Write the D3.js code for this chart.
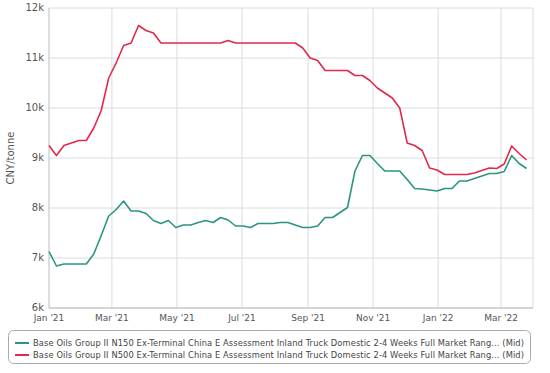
<!DOCTYPE html>
<html>
<head>
<meta charset="utf-8">
<script src="https://cdn.jsdelivr.net/npm/d3@7"></script>
<style>
  body { margin: 0; background: #fff; }
  text { font-family: "DejaVu Sans", sans-serif; }
</style>
</head>
<body>
<main></main>
<script>
// weekly readings, first one on 1 Jan 2021
const startDate = "2021-01-01";
const n150 = [7.13, 6.84, 6.88, 6.88, 6.88, 6.88, 7.08, 7.45, 7.84, 7.97,
  8.14, 7.94, 7.94, 7.89, 7.75, 7.69, 7.75, 7.61, 7.66, 7.66,
  7.71, 7.75, 7.71, 7.81, 7.76, 7.64, 7.64, 7.61, 7.69, 7.69,
  7.69, 7.71, 7.71, 7.66, 7.61, 7.61, 7.64, 7.81, 7.81, 7.91,
  8.01, 8.74, 9.05, 9.05, 8.89, 8.74, 8.74, 8.74, 8.57, 8.39,
  8.38, 8.36, 8.34, 8.39, 8.39, 8.54, 8.54, 8.59, 8.64, 8.69,
  8.69, 8.73, 9.05, 8.89, 8.79].map(v => v * 1000);
const n500 = [9.25, 9.05, 9.25, 9.3, 9.35, 9.35, 9.6, 9.95, 10.6, 10.9,
  11.25, 11.3, 11.65, 11.55, 11.5, 11.3, 11.3, 11.3, 11.3, 11.3,
  11.3, 11.3, 11.3, 11.3, 11.35, 11.3, 11.3, 11.3, 11.3, 11.3,
  11.3, 11.3, 11.3, 11.3, 11.2, 11.0, 10.95, 10.75, 10.75, 10.75,
  10.75, 10.65, 10.65, 10.55, 10.4, 10.3, 10.2, 10.0, 9.3, 9.25,
  9.15, 8.8, 8.76, 8.67, 8.67, 8.67, 8.67, 8.7, 8.75, 8.8,
  8.79, 8.88, 9.24, 9.09, 8.96].map(v => v * 1000);
const seriesNames = [
  "Base Oils Group II N150 Ex-Terminal China E Assessment Inland Truck Domestic 2-4 Weeks Full Market Rang... (Mid)",
  "Base Oils Group II N500 Ex-Terminal China E Assessment Inland Truck Domestic 2-4 Weeks Full Market Rang... (Mid)"
];
const colours = ["#2a9580", "#e2294c"];
const yTicks = [6000, 7000, 8000, 9000, 10000, 11000, 12000];
const yLabel = "CNY/tonne";

const parse = d3.timeParse("%Y-%m-%d");
const dates = n150.map((v, i) => d3.timeDay.offset(parse(startDate), i * 7));

const width = 550, height = 373;
const plotLeft = 49, plotRight = 533, plotTop = 8, plotBottom = 308;

const svg = d3.select("main").append("svg").attr("width", width).attr("height", height);

const x = d3.scaleTime().domain([parse("2021-01-01"), parse("2022-03-31")]).range([plotLeft, plotRight]);
const y = d3.scaleLinear().domain([6000, 12000]).range([plotBottom, plotTop]);

// horizontal grid
svg.append("g")
   .selectAll("line")
   .data(yTicks)
   .enter()
   .append("line")
   .attr("x1", plotLeft).attr("x2", plotRight)
   .attr("y1", d => y(d)).attr("y2", d => y(d))
   .attr("stroke", "#dcdcdc");

// vertical grid at month ticks
let xTicks = x.ticks(d3.timeMonth.every(2));
svg.append("g")
   .selectAll("line")
   .data(xTicks.slice(1))
   .enter()
   .append("line")
   .attr("x1", d => x(d)).attr("x2", d => x(d))
   .attr("y1", plotTop).attr("y2", plotBottom)
   .attr("stroke", "#dcdcdc");

svg.append("line")
   .attr("x1", plotRight).attr("x2", plotRight)
   .attr("y1", plotTop).attr("y2", plotBottom)
   .attr("stroke", "#dcdcdc");

// axes
svg.append("line")
   .attr("x1", plotLeft).attr("x2", plotLeft).attr("y1", plotTop).attr("y2", plotBottom)
   .attr("stroke", "#bdbdbd");
svg.append("line")
   .attr("x1", plotLeft).attr("x2", plotRight).attr("y1", plotBottom).attr("y2", plotBottom)
   .attr("stroke", "#bdbdbd");

svg.append("g")
   .selectAll("text")
   .data(yTicks)
   .enter()
   .append("text")
   .attr("x", plotLeft - 5)
   .attr("y", d => y(d) + 3)
   .attr("text-anchor", "end")
   .attr("font-size", "10px")
   .attr("fill", "#555")
   .text(d => (d / 1000) + "k");

svg.append("g")
   .selectAll("text")
   .data(xTicks)
   .enter()
   .append("text")
   .attr("x", d => x(d))
   .attr("y", plotBottom + 13)
   .attr("text-anchor", "middle")
   .attr("font-size", "9px")
   .attr("fill", "#555")
   .text(d => d3.timeFormat("%b '%y")(d));

svg.append("text")
   .attr("transform", `translate(14,${(plotTop + plotBottom) / 2}) rotate(-90)`)
   .attr("text-anchor", "middle")
   .attr("font-size", "10px")
   .attr("fill", "#555")
   .text(yLabel);

// lines
let line = d3.line().x((d, i) => x(dates[i])).y(d => y(d));
[n150, n500].forEach((s, k) => {
    svg.append("path")
       .attr("d", line(s))
       .attr("fill", "none")
       .attr("stroke", colours[k])
       .attr("stroke-width", 1.6)
       .attr("stroke-linejoin", "round");
});

// legend
let legend = svg.append("g");
legend.append("rect")
      .attr("x", 8.5).attr("y", 330.5)
      .attr("width", 522).attr("height", 33)
      .attr("rx", 5)
      .attr("fill", "#fff")
      .attr("stroke", "#aaa");

seriesNames.forEach((name, k) => {
    let ly = 343 + k * 12;
    legend.append("line")
          .attr("x1", 15).attr("x2", 29)
          .attr("y1", ly).attr("y2", ly)
          .attr("stroke", colours[k])
          .attr("stroke-width", 2);
    legend.append("text")
          .attr("x", 33).attr("y", ly + 3)
          .attr("font-size", "8.3px")
          .attr("fill", "#444")
          .attr("textLength", 491)
          .attr("lengthAdjust", "spacing")
          .text(name);
});
</script>
</body>
</html>
